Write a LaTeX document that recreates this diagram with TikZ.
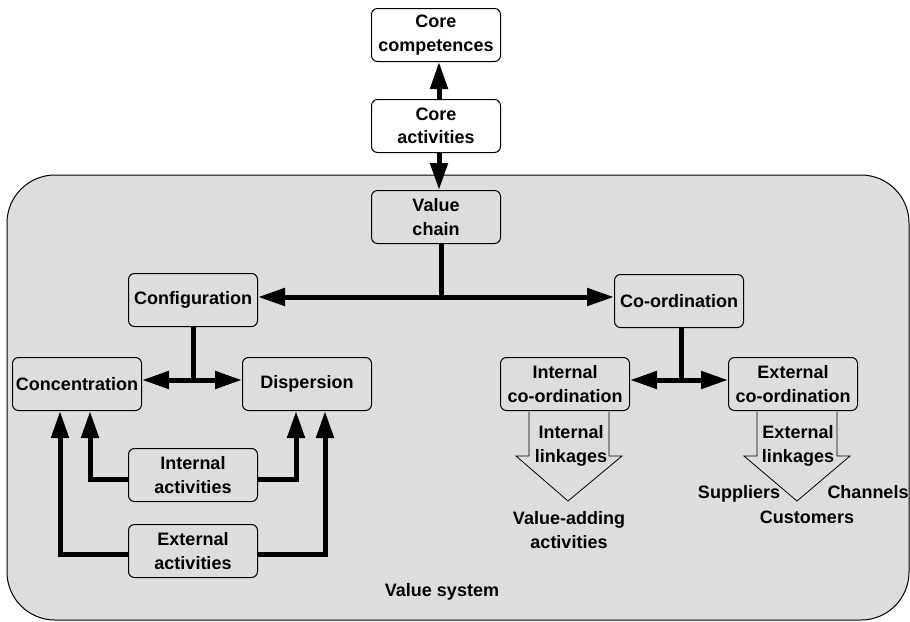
\documentclass[tikz,border=0pt]{standalone}
\usepackage{fontspec}
\setmainfont{Liberation Sans}
\usetikzlibrary{arrows.meta}
\definecolor{bggray}{RGB}{221,221,221}
\begin{document}
\begin{tikzpicture}[x=1pt,y=-1pt,
  box/.style={draw, line width=1pt, rounded corners=6pt, minimum width=129pt, minimum height=53pt,
    inner sep=0pt, align=center, font=\fontsize{18}{23.5}\selectfont\bfseries, fill=bggray},
  wbox/.style={box, fill=white},
  lbl/.style={align=center, font=\fontsize{18}{23.5}\selectfont\bfseries, inner sep=0pt},
  con/.style={line width=5pt, -{Triangle[width=17pt,length=27pt]}},
  plainline/.style={line width=5pt},
  blk/.style={draw, line width=0.8pt, fill=bggray}
]
\useasboundingbox (0,0) rectangle (910,621);
\draw[line width=1pt, fill=bggray, rounded corners=48pt] (7,175) rectangle (909,620);

\node[wbox] (cc) at (436,35) {Core\\competences};
\node[wbox] (ca) at (436,126) {Core\\activities};
\node[box] (vc) at (436,217) {Value\\chain};
\node[box] (cfg) at (193,300) {Configuration};
\node[box] (conc) at (77,384) {Concentration};
\node[box] (disp) at (307,384) {Dispersion};
\node[box] (inta) at (193,475) {Internal\\activities};
\node[box] (exta) at (193,551) {External\\activities};
\node[box] (coord) at (679,301) {Co-ordination};
\node[box] (icoord) at (565,384) {Internal\\co-ordination};
\node[box] (ecoord) at (793,384) {External\\co-ordination};

% top chain
\draw[con] ([xshift=3pt]ca.north) -- ([xshift=3pt]cc.south);
\draw[con] ([xshift=3pt]ca.south) -- ([xshift=3pt]vc.north);

% value chain split
\coordinate (j1) at (441,297);
\draw[plainline] ([xshift=5pt]vc.south) -- (j1);
\draw[con] (j1) -- (cfg.east |- j1);
\draw[con] (j1) -- (coord.west |- j1);

% configuration split
\coordinate (j2) at (193,380);
\draw[plainline] (cfg.south) -- (j2);
\draw[con] (j2) -- (conc.east |- j2);
\draw[con] (j2) -- (disp.west |- j2);

% activities
\draw[con] ([yshift=-4pt]inta.west) -| ([xshift=13pt]conc.south);
\draw[con] ([yshift=-4pt]inta.east) -| ([xshift=-11pt]disp.south);
\draw[con] ([yshift=-3pt]exta.west) -| ([xshift=-17pt]conc.south);
\draw[con] ([yshift=-3pt]exta.east) -| ([xshift=18pt]disp.south);

% co-ordination split
\coordinate (j3) at (681,380);
\draw[plainline] ([xshift=2pt]coord.south) -- (j3);
\draw[con] (j3) -- (icoord.east |- j3);
\draw[con] (j3) -- (ecoord.west |- j3);

% block arrows
\draw[blk] (529,411.5) -- (529,456) -- (516,456) -- (568,501) -- (622,456) -- (609,456) -- (609,411.5);
\draw[blk] (757,411.5) -- (757,456) -- (744,456) -- (797,501) -- (850,456) -- (837,456) -- (837,411.5);

\node[lbl] (il) at (571,446) {Internal\\linkages};
\node[lbl] (el) at (798,446) {External\\linkages};
\node[lbl] (va) at (569,530) {Value-adding\\activities};
\node[lbl] (sup) at (739,494) {Suppliers};
\node[lbl] (chn) at (868,492) {Channels};
\node[lbl] (cus) at (807,517) {Customers};
\node[lbl] (vs) at (442,592) {Value system};
\end{tikzpicture}
\end{document}
